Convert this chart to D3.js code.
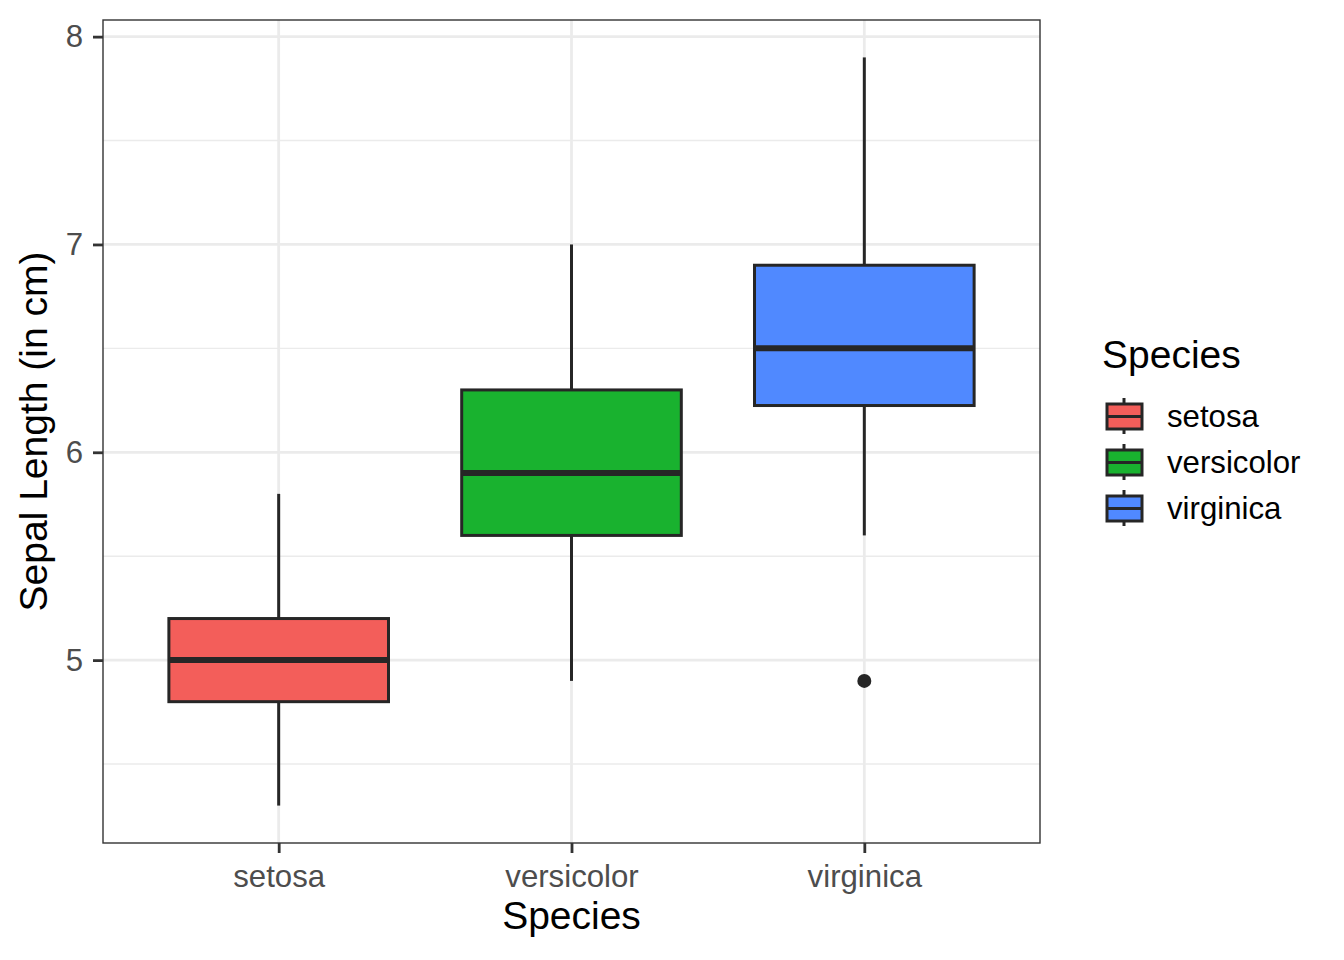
<!DOCTYPE html>
<html>
<head>
<meta charset="utf-8">
<script src="https://cdn.jsdelivr.net/npm/d3@7"></script>
<style>
  body { margin: 0; background: #fff; }
  text { font-family: "Liberation Sans", Arial, sans-serif; }
</style>
</head>
<body>
<svg id="chart" width="1344" height="960"></svg>
<script>
// data (iris sepal length summary)
var species = ["setosa", "versicolor", "virginica"];
var colors = ["#F35E5A", "#19B22F", "#5089FF"];
var q1 = [4.8, 5.6, 6.225];
var median = [5.0, 5.9, 6.5];
var q3 = [5.2, 6.3, 6.9];
var whisk_lo = [4.3, 4.9, 5.6];
var whisk_hi = [5.8, 7.0, 7.9];
var outliers = [[], [], [4.9]];
var y_ticks = [5, 6, 7, 8];
var y_minor = [4.5, 5.5, 6.5, 7.5];

var svg = d3.select("#chart");

var panel_left = 103, panel_right = 1040, panel_top = 20, panel_bottom = 843;
var grid_color = "#EBEBEB";
var line_color = "#262626";
var tick_font = "31.2px", title_font = "39px";

// ggplot discrete expansion: 0.6 units on each side
var x = d3.scalePoint().domain(species).range([panel_left, panel_right]).padding(0.6);
var y = d3.scaleLinear().domain([4.12, 8.08]).range([panel_bottom, panel_top]);

var box_w = x.step() * 0.75;

// grid lines
svg.append("g").selectAll("line").data(y_minor).enter().append("line")
  .attr("x1", panel_left).attr("x2", panel_right)
  .attr("y1", d => y(d)).attr("y2", d => y(d))
  .style("stroke", grid_color).style("stroke-width", 1.4);

svg.append("g").selectAll("line").data(y_ticks).enter().append("line")
  .attr("x1", panel_left).attr("x2", panel_right)
  .attr("y1", d => y(d)).attr("y2", d => y(d))
  .style("stroke", grid_color).style("stroke-width", 2.8);

svg.append("g").selectAll("line").data(species).enter().append("line")
  .attr("x1", d => x(d)).attr("x2", d => x(d))
  .attr("y1", panel_top).attr("y2", panel_bottom)
  .style("stroke", grid_color).style("stroke-width", 2.8);

// boxes
var boxes = svg.append("g").selectAll("g").data(species).enter().append("g");

boxes.append("line")
  .attr("x1", d => x(d)).attr("x2", d => x(d))
  .attr("y1", (d, i) => y(whisk_hi[i])).attr("y2", (d, i) => y(q3[i]))
  .style("stroke", line_color).style("stroke-width", 3);

boxes.append("line")
  .attr("x1", d => x(d)).attr("x2", d => x(d))
  .attr("y1", (d, i) => y(whisk_lo[i])).attr("y2", (d, i) => y(q1[i]))
  .style("stroke", line_color).style("stroke-width", 3);

boxes.append("rect")
  .attr("x", d => x(d) - box_w / 2)
  .attr("width", box_w)
  .attr("y", (d, i) => y(q3[i]))
  .attr("height", (d, i) => y(q1[i]) - y(q3[i]))
  .style("fill", (d, i) => colors[i])
  .style("stroke", line_color).style("stroke-width", 3);

boxes.append("line")
  .attr("x1", d => x(d) - box_w / 2)
  .attr("x2", d => x(d) + box_w / 2)
  .attr("y1", (d, i) => y(median[i])).attr("y2", (d, i) => y(median[i]))
  .style("stroke", line_color).style("stroke-width", 6);

boxes.each(function (d, i) {
  d3.select(this).selectAll("circle").data(outliers[i]).enter().append("circle")
    .attr("cx", x(d))
    .attr("cy", v => y(v))
    .attr("r", 7)
    .style("fill", line_color);
});

// panel border
svg.append("rect")
  .attr("x", panel_left).attr("y", panel_top)
  .attr("width", panel_right - panel_left).attr("height", panel_bottom - panel_top)
  .style("fill", "none").style("stroke", "#333333").style("stroke-width", 1.4);

// axes
var y_axis = svg.append("g")
  .attr("transform", "translate(" + panel_left + ",0)")
  .call(d3.axisLeft(y).tickValues(y_ticks).tickSize(10).tickPadding(10).tickFormat(d3.format("d")));
y_axis.select(".domain").remove();
y_axis.selectAll("line").style("stroke", "#333333").style("stroke-width", 2.8);
y_axis.selectAll("text").style("font-size", tick_font).style("fill", "#4D4D4D")
  .style("font-family", "'Liberation Sans', Arial, sans-serif");

var x_axis = svg.append("g")
  .attr("transform", "translate(0," + panel_bottom + ")")
  .call(d3.axisBottom(x).tickSize(10).tickPadding(12));
x_axis.select(".domain").remove();
x_axis.selectAll("line").style("stroke", "#333333").style("stroke-width", 2.8);
x_axis.selectAll("text").style("font-size", tick_font).style("fill", "#4D4D4D")
  .style("font-family", "'Liberation Sans', Arial, sans-serif");

// axis titles
svg.append("text")
  .text("Species")
  .attr("x", (panel_left + panel_right) / 2)
  .attr("y", 929)
  .attr("text-anchor", "middle")
  .style("font-size", title_font)
  .style("fill", "#000");

svg.append("text")
  .text("Sepal Length (in cm)")
  .attr("transform", "translate(47," + (panel_top + panel_bottom) / 2 + ") rotate(-90)")
  .attr("text-anchor", "middle")
  .style("font-size", title_font)
  .style("fill", "#000");

// legend
var legend_x = 1105, legend_y = 416, legend_step = 46;
svg.append("text")
  .text("Species")
  .attr("x", 1102).attr("y", 368)
  .style("font-size", title_font)
  .style("fill", "#000");

var keys = svg.append("g").selectAll("g").data(species).enter().append("g")
  .attr("transform", (d, i) => "translate(" + legend_x + "," + (legend_y + i * legend_step) + ")");

keys.append("line")
  .attr("x1", 19).attr("x2", 19).attr("y1", -18).attr("y2", 18)
  .style("stroke", line_color).style("stroke-width", 3);
keys.append("rect")
  .attr("x", 2).attr("y", -12).attr("width", 35).attr("height", 25)
  .style("fill", (d, i) => colors[i])
  .style("stroke", line_color).style("stroke-width", 3);
keys.append("line")
  .attr("x1", 2).attr("x2", 37).attr("y1", 0.5).attr("y2", 0.5)
  .style("stroke", line_color).style("stroke-width", 3);
keys.append("text")
  .text(d => d)
  .attr("x", 62).attr("y", 11)
  .style("font-size", tick_font)
  .style("fill", "#000");
</script>
</body>
</html>
